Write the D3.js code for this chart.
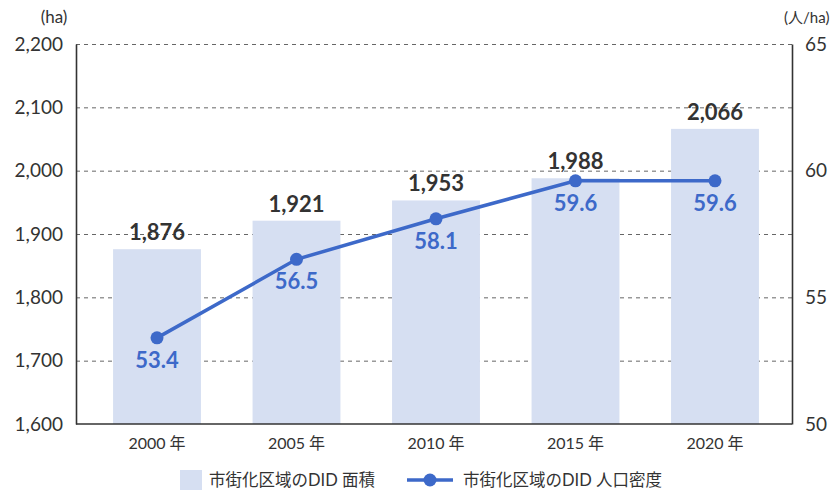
<!DOCTYPE html>
<html>
<head>
<meta charset="utf-8">
<script src="https://cdn.jsdelivr.net/npm/d3@7"></script>
<style>
  body { margin: 0; background: #fff; }
  svg { display: block; font-family: Lato, 'Noto Sans CJK JP', sans-serif; }
</style>
</head>
<body>
<div id="chart"></div>
<script>
const years = ['2000 年', '2005 年', '2010 年', '2015 年', '2020 年']
const areaHa = [1876, 1921, 1953, 1988, 2066]
const density = [53.4, 56.5, 58.1, 59.6, 59.6]
const leftTicks = [1600, 1700, 1800, 1900, 2000, 2100, 2200]
const rightTicks = [50, 55, 60, 65]
const legendLabels = ['市街化区域のDID 面積', '市街化区域のDID 人口密度']

const W = 834
const H = 490
const margin = { TOP: 44, RIGHT: 42, BOTTOM: 66, LEFT: 76 }

const barColor = '#d6dff2'
const lineColor = '#3d69c9'
const textColor = '#333'

const svg = d3.select('#chart').append('svg').attr('width', W).attr('height', H)

const x = d3.scaleBand()
  .domain(years)
  .range([margin.LEFT + 1.5, W - margin.RIGHT + 2.5])
  .paddingInner(0.37)
  .paddingOuter(0.255)

const yL = d3.scaleLinear().domain([1600, 2200]).range([H - margin.BOTTOM, margin.TOP])
const yR = d3.scaleLinear().domain([50, 65]).range([H - margin.BOTTOM, margin.TOP])

// grid
svg.append('g')
  .attr('transform', `translate(${margin.LEFT},0)`)
  .call(d3.axisLeft(yL).tickValues(leftTicks.slice(1)).tickSize(-(W - margin.LEFT - margin.RIGHT)).tickFormat(''))
  .call(g => g.select('.domain').remove())
  .selectAll('line')
  .attr('stroke', '#666')
  .attr('stroke-dasharray', '4,4')

// bars
svg.append('g')
  .selectAll('rect')
  .data(areaHa)
  .join('rect')
  .attr('x', (d, i) => x(years[i]))
  .attr('width', x.bandwidth())
  .attr('y', d => yL(d))
  .attr('height', d => yL(1600) - yL(d))
  .attr('fill', barColor)

// frame axes
const axisStyle = g => {
  g.select('.domain').attr('stroke', '#333').attr('stroke-width', 1.6)
  g.selectAll('text').attr('fill', textColor).style('font-family', 'Lato').style('font-size', '19px')
}

svg.append('g')
  .attr('transform', `translate(${margin.LEFT},0)`)
  .call(d3.axisLeft(yL).tickValues(leftTicks).tickSize(0).tickPadding(13).tickFormat(d3.format(',')))
  .call(axisStyle)

svg.append('g')
  .attr('transform', `translate(${W - margin.RIGHT},0)`)
  .call(d3.axisRight(yR).tickValues(rightTicks).tickSize(0).tickPadding(13))
  .call(axisStyle)

svg.append('g')
  .attr('transform', `translate(0,${H - margin.BOTTOM})`)
  .call(d3.axisBottom(x).tickSize(0).tickPadding(14))
  .call(g => g.select('.domain').attr('stroke', '#333').attr('stroke-width', 1.6)
    .attr('d', `M${margin.LEFT},0H${W - margin.RIGHT}`))
  .call(g => g.selectAll('text').attr('fill', textColor).style('font-size', '16px')
    .style('font-family', "Lato, 'Noto Sans CJK JP'"))

// axis units
svg.append('text').attr('x', 54).attr('y', 23).attr('text-anchor', 'middle')
  .attr('fill', textColor).style('font-size', '17px').text('(ha)')
svg.append('text').attr('x', 784).attr('y', 23).attr('text-anchor', 'start')
  .attr('fill', textColor).style('font-size', '15px').style('font-family', "Lato, 'Noto Sans CJK JP'")
  .text('(人/ha)')

// bar value labels
svg.append('g')
  .selectAll('text')
  .data(areaHa)
  .join('text')
  .attr('x', (d, i) => x(years[i]) + x.bandwidth() / 2)
  .attr('y', d => yL(d) - 9)
  .attr('text-anchor', 'middle')
  .attr('fill', textColor)
  .style('font-weight', 'bold')
  .style('font-size', '22px')
  .text(d => d3.format(',')(d))

// line
const cx = i => x(years[i]) + x.bandwidth() / 2
const line = d3.line().x((d, i) => cx(i)).y(d => yR(d))

svg.append('path')
  .datum(density)
  .attr('d', line)
  .attr('fill', 'none')
  .attr('stroke', lineColor)
  .attr('stroke-width', 3.5)

svg.append('g')
  .selectAll('circle')
  .data(density)
  .join('circle')
  .attr('cx', (d, i) => cx(i))
  .attr('cy', d => yR(d))
  .attr('r', 6.5)
  .attr('fill', lineColor)

svg.append('g')
  .selectAll('text')
  .data(density)
  .join('text')
  .attr('x', (d, i) => cx(i))
  .attr('y', d => yR(d) + 30)
  .attr('text-anchor', 'middle')
  .attr('fill', lineColor)
  .style('font-weight', 'bold')
  .style('font-size', '22px')
  .text(d => d.toFixed(1))

// legend
const legend = svg.append('g').style('font-size', '16.5px').style('font-family', "Lato, 'Noto Sans CJK JP'")
legend.append('rect').attr('x', 180).attr('y', 470).attr('width', 22).attr('height', 20).attr('fill', barColor)
legend.append('text').attr('x', 209).attr('y', 486).attr('fill', textColor).text(legendLabels[0])
legend.append('line').attr('x1', 407).attr('x2', 453).attr('y1', 480).attr('y2', 480)
  .attr('stroke', lineColor).attr('stroke-width', 3.5)
legend.append('circle').attr('cx', 430).attr('cy', 480).attr('r', 6.5).attr('fill', lineColor)
legend.append('text').attr('x', 463).attr('y', 486).attr('fill', textColor).text(legendLabels[1])
</script>
</body>
</html>
